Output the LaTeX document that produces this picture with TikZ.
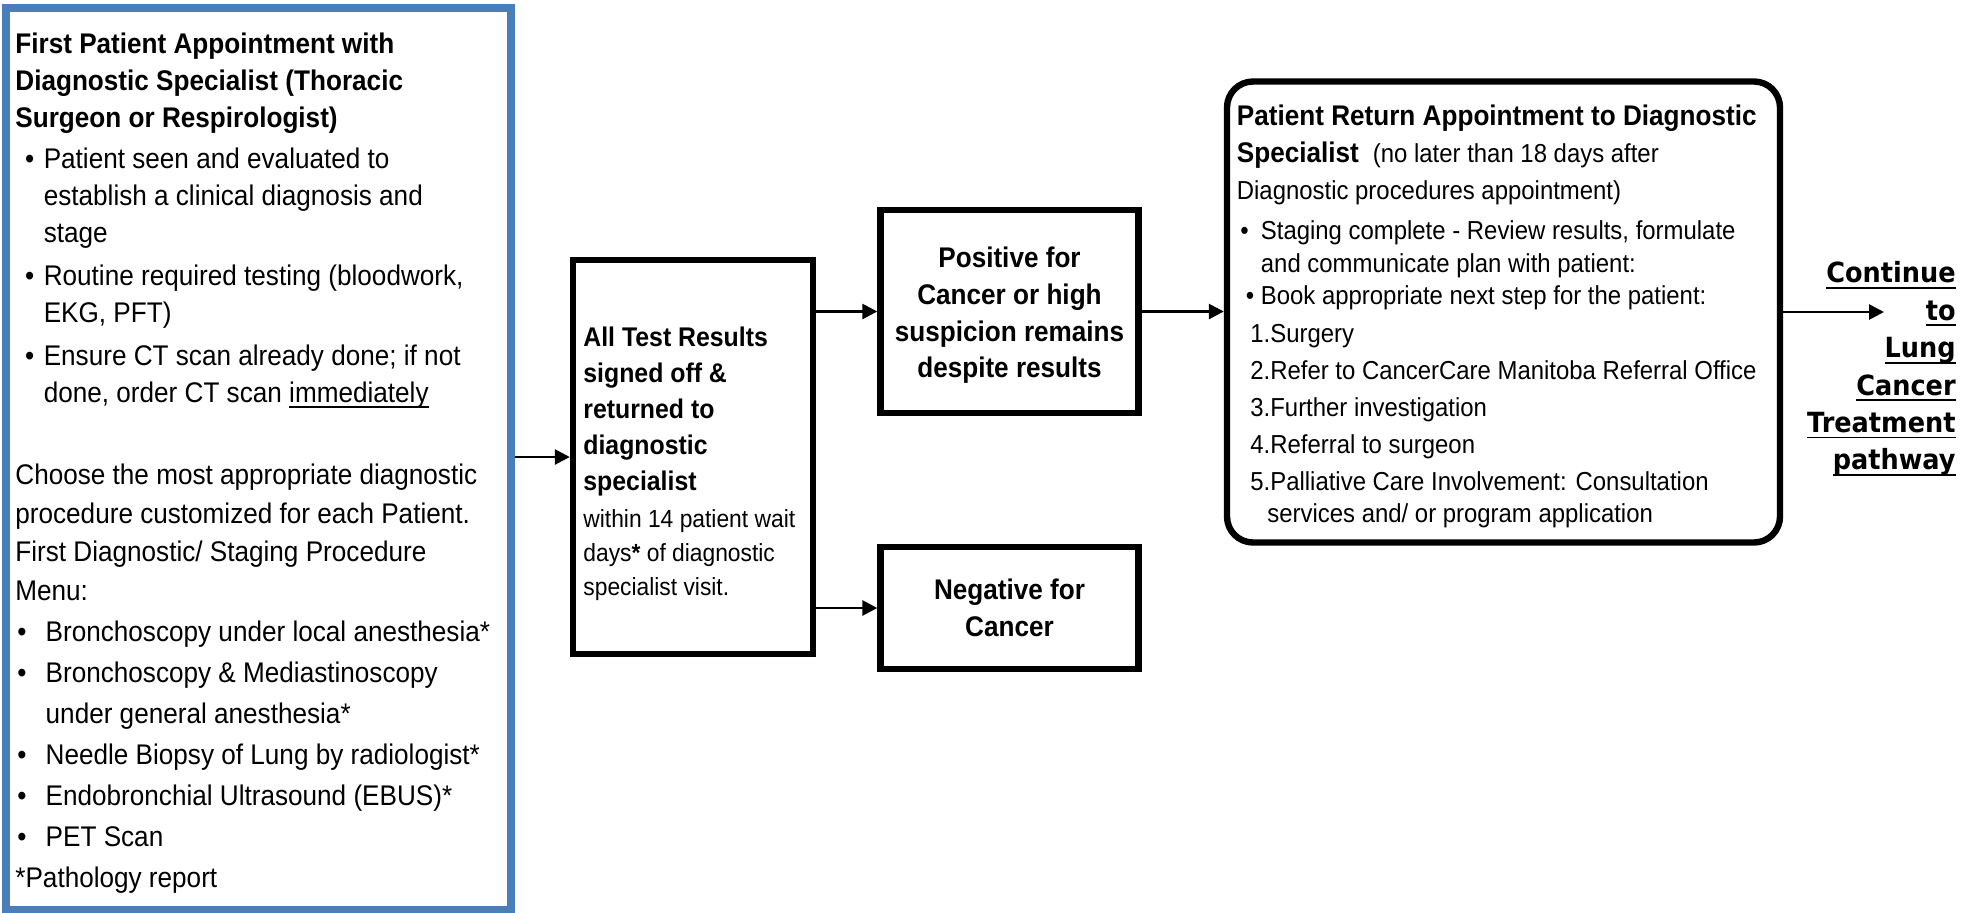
\documentclass[tikz,border=0pt]{standalone}
\usepackage{xcolor}
\usepackage{fontspec}
\setmainfont[FakeStretch=0.92]{Liberation Sans}
\newfontfamily\heavyfont[FakeStretch=0.92]{DejaVu Sans}
\usepackage{tikz}
\usetikzlibrary{arrows.meta}
\usetikzlibrary{positioning}
\definecolor{apptblue}{RGB}{74,126,187}
\tikzset{>=latex}
\tikzstyle{apptbox} = [rectangle, draw=apptblue, line width=3.9pt, inner sep=0]
\tikzstyle{stepbox} = [rectangle, draw=black, line width=3.2pt, inner sep=0, align=center]
\tikzstyle{txt} = [inner sep=0, anchor=north west, align=left]
\tikzstyle{flow} = [-{Triangle[length=7.5pt, width=7.5pt]}, line width=1.35pt, draw=black]
\newcommand{\bulitem}[2]{\hspace*{#1}\makebox[#2][l]{\textbullet}}
\newcommand{\bulgap}[1]{\hspace*{#1}}
\newsavebox{\undlbox}
\newcommand{\undl}[1]{\sbox{\undlbox}{#1}\rlap{\rule[-2.9pt]{\wd\undlbox}{0.9pt}}\usebox{\undlbox}}

\begin{document}
\begin{tikzpicture}[x=0.5pt, y=-0.5pt]
\useasboundingbox (0,0) rectangle (1976,912);
\node [apptbox, minimum width=252.6pt, minimum height=451.1pt] (first) at (258.4, 458.9) {};
\node [txt, font=\fontsize{14.2}{18.5}\selectfont] (firsthead) at (15, 32.4) {{\bfseries First Patient Appointment with}\\
{\bfseries Diagnostic Specialist (Thoracic}\\
{\bfseries Surgeon or Respirologist)}\\[2.2pt]
\bulitem{4.85pt}{9.35pt}Patient seen and evaluated to\\
\bulgap{14.2pt}establish a clinical diagnosis and\\
\bulgap{14.2pt}stage\\[2.8pt]
\bulitem{4.85pt}{9.35pt}Routine required testing (bloodwork,\\
\bulgap{14.2pt}EKG, PFT)\\[2.9pt]
\bulitem{4.85pt}{9.35pt}Ensure CT scan already done; if not\\
\bulgap{14.2pt}done, order CT scan \undl{immediately}};
\node [txt, font=\fontsize{14.2}{19.4}\selectfont] (firstmenu) at (15, 463.3) {Choose the most appropriate diagnostic\\
procedure customized for each Patient.\\
First Diagnostic/ Staging Procedure\\
Menu:\\[1.1pt]
\bulitem{1pt}{14.15pt}Bronchoscopy under local anesthesia*\\[1.1pt]
\bulitem{1pt}{14.15pt}Bronchoscopy \& Mediastinoscopy\\[1.1pt]
\bulgap{15.15pt}under general anesthesia*\\[1.1pt]
\bulitem{1pt}{14.15pt}Needle Biopsy of Lung by radiologist*\\[1.1pt]
\bulitem{1pt}{14.15pt}Endobronchial Ultrasound (EBUS)*\\[1.1pt]
\bulitem{1pt}{14.15pt}PET Scan\\[1.1pt]
*Pathology report};
\node [stepbox, minimum width=120pt, minimum height=197pt] (results) at (693, 457) {};
\node [txt, font=\bfseries\fontsize{13.5}{18}\selectfont] (resulthead) at (583, 326.7) {All Test Results\\signed off \&\\returned to\\diagnostic\\specialist};
\node [txt, font=\fontsize{12.4}{17}\selectfont] (resultnote) at (583, 509) {within 14 patient wait\\days{\bfseries *} of diagnostic\\specialist visit.};
\node [stepbox, minimum width=129pt, minimum height=101.5pt, font=\bfseries\fontsize{14.2}{18.3}\selectfont] (positive) at (1009.5, 311.5) {\rule{0pt}{14.2pt}Positive for\\Cancer or high\\suspicion remains\\despite results};
\node [stepbox, minimum width=129pt, minimum height=61pt, font=\bfseries\fontsize{14.2}{18.3}\selectfont] (negative) at (1009.5, 608) {Negative for\\Cancer};
\node [stepbox, rounded corners=13pt, minimum width=276.5pt, minimum height=230.5pt] (return) at (1503.5, 312) {};
\node [txt, font=\fontsize{14.2}{18.5}\selectfont] (rethead) at (1236.5, 104.2) {{\bfseries Patient Return Appointment to Diagnostic}\\
{\bfseries Specialist}\hspace{7pt}{\fontsize{13}{18.5}\selectfont (no later than 18 days after}\\
{\fontsize{13}{18.5}\selectfont Diagnostic procedures appointment)}};
\node [txt, font=\fontsize{13}{16.25}\selectfont] (retbullets) at (1236.5, 220.5) {\bulitem{1.7pt}{10.3pt}Staging complete - Review results, formulate\\
\bulgap{12pt}and communicate plan with patient:\\
\bulitem{4.5pt}{7.5pt}Book appropriate next step for the patient:};
\node [txt, font=\fontsize{13}{18.5}\selectfont] (retsteps) at (1250, 323.8) {1.Surgery\\
2.Refer to CancerCare Manitoba Referral Office\\
3.Further investigation\\
4.Referral to surgeon\\
5.Palliative Care Involvement: Consultation\\[-2.3pt]
\bulgap{8.5pt}services and/ or program application};
\node [inner sep=0, anchor=north east, align=right, font=\heavyfont\bfseries\fontsize{13.9}{18.7}\selectfont] (contxt) at (1956, 261.4) {\undl{Continue}\\\undl{to}\\\undl{Lung}\\\undl{Cancer}\\\undl{Treatment}\\\undl{pathway}};
\coordinate (pathway) at (1884, 312);
\draw [flow] (first.east |- results.west) to (results.west);
\draw [flow] (results.east |- positive.west) to (positive.west);
\draw [flow] (results.east |- negative.west) to (negative.west);
\draw [flow] (positive.east) to (positive.east -| return.west);
\draw [flow] (return.east |- pathway) to (pathway);
\end{tikzpicture}
\end{document}
